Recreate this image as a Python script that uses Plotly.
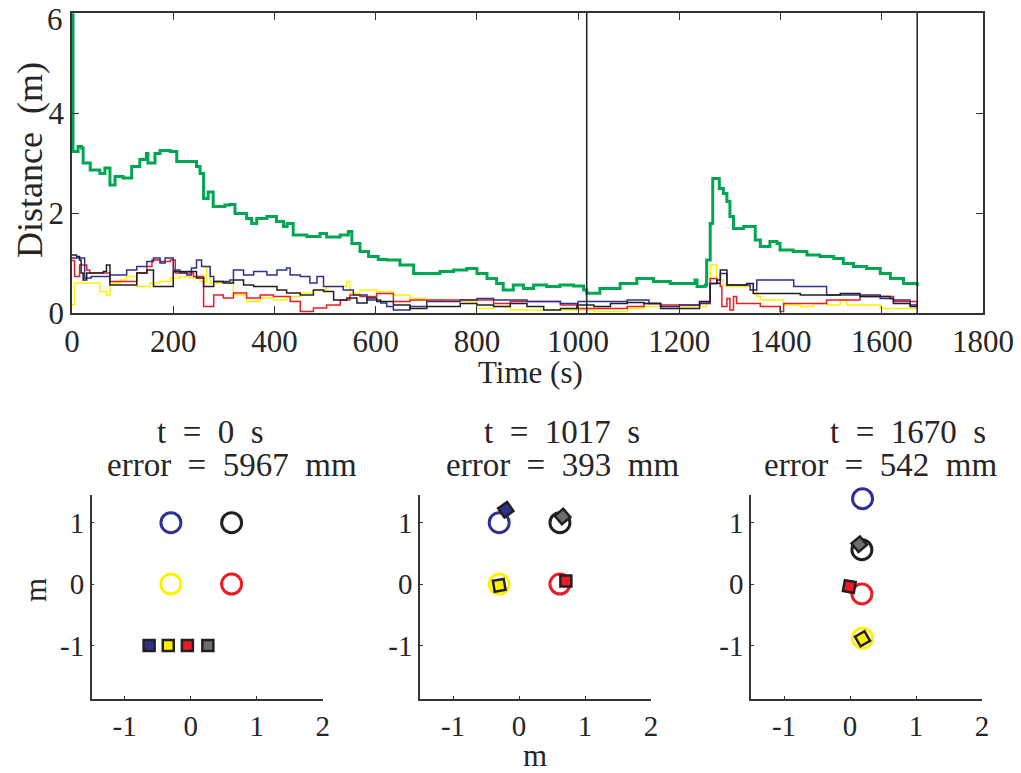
import plotly.graph_objects as go

# ---- distance-to-goal time series (s, m) ----
t_err = [0, 2, 12, 19, 22, 36, 55, 65, 75, 85, 101, 118, 134, 147, 150, 164, 174, 194, 207, 227,
         246, 253, 260, 269, 279, 302, 312, 322, 345, 355, 365, 385, 404, 418, 425, 437, 464, 490,
         503, 530, 546, 553, 569, 586, 605, 622, 648, 675, 701, 727, 754, 780, 800, 820, 839, 852,
         872, 892, 912, 938, 964, 991, 1011, 1017, 1043, 1083, 1116, 1149, 1182, 1208, 1231, 1235,
         1251, 1254, 1261, 1266, 1274, 1279, 1287, 1294, 1300, 1307, 1327, 1346, 1350, 1360, 1379,
         1393, 1399, 1425, 1452, 1478, 1505, 1524, 1544, 1570, 1597, 1617, 1643, 1670]
d_err = [5.967, 3.23, 3.33, 3.30, 3.00, 2.86, 2.79, 2.90, 2.56, 2.73, 2.70, 2.93, 3.07, 3.19, 3.00,
         3.19, 3.25, 3.23, 3.03, 3.03, 2.93, 2.79, 2.29, 2.42, 2.13, 2.16, 2.17, 1.99, 1.89, 1.79,
         1.89, 1.93, 1.83, 1.73, 1.79, 1.56, 1.53, 1.59, 1.52, 1.56, 1.63, 1.39, 1.23, 1.13, 1.07,
         1.06, 0.96, 0.79, 0.79, 0.83, 0.86, 0.89, 0.79, 0.69, 0.59, 0.46, 0.56, 0.49, 0.56, 0.53,
         0.56, 0.54, 0.46, 0.393, 0.49, 0.59, 0.69, 0.63, 0.59, 0.59, 0.66, 0.53, 0.56, 1.06, 1.79,
         2.69, 2.69, 2.49, 2.39, 2.23, 1.93, 1.69, 1.73, 1.73, 1.46, 1.33, 1.43, 1.39, 1.26, 1.23,
         1.16, 1.13, 1.09, 0.99, 0.93, 0.89, 0.79, 0.69, 0.59, 0.542]

t_blue = [0, 25, 38, 75, 108, 128, 148, 161, 174, 184, 200, 213, 227, 236, 246, 256, 273, 280, 312,
          319, 339, 359, 385, 405, 424, 431, 451, 470, 484, 497, 536, 556, 583, 610, 622, 635, 668,
          701, 767, 800, 833, 899, 965, 1000, 1031, 1097, 1140, 1163, 1200, 1240, 1261, 1281, 1294,
          1340, 1353, 1426, 1491, 1597, 1623, 1656, 1670]
d_blue = [1.10, 0.70, 0.73, 0.76, 0.86, 0.93, 1.03, 1.10, 1.00, 1.10, 0.86, 0.80, 0.76, 0.90, 1.06,
          0.93, 0.73, 0.63, 0.66, 0.86, 0.76, 0.83, 0.76, 0.86, 0.90, 0.76, 0.73, 0.60, 0.73, 0.53,
          0.46, 0.36, 0.26, 0.20, 0.13, 0.06, 0.13, 0.23, 0.26, 0.29, 0.26, 0.23, 0.19, 0.23, 0.23,
          0.26, 0.19, 0.13, 0.16, 0.19, 0.59, 0.79, 0.56, 0.46, 0.66, 0.53, 0.36, 0.29, 0.26, 0.16,
          0.19]

t_red = [0, 5, 15, 29, 35, 75, 128, 148, 158, 174, 194, 204, 240, 260, 280, 299, 319, 345, 372, 398,
         431, 451, 477, 503, 530, 549, 569, 602, 635, 668, 833, 866, 965, 998, 1064, 1097, 1130, 1163,
         1240, 1261, 1274, 1281, 1284, 1294, 1300, 1307, 1313, 1360, 1399, 1406, 1491, 1557, 1623,
         1670]
d_red = [1.05, 0.73, 0.96, 0.86, 0.80, 0.63, 0.80, 0.93, 1.06, 1.03, 1.06, 0.80, 0.73, 0.13, 0.36,
         0.30, 0.40, 0.30, 0.36, 0.33, 0.23, 0.03, 0.10, 0.16, 0.26, 0.36, 0.33, 0.39, 0.23, 0.26,
         0.19, 0.23, 0.16, 0.09, 0.09, 0.13, 0.19, 0.16, 0.20, 0.69, 0.60, 0.53, 0.13, 0.29, 0.06,
         0.33, 0.19, 0.13, 0.03, 0.19, 0.26, 0.33, 0.23, 0.19]

t_yel = [0, 5, 55, 68, 75, 95, 108, 128, 154, 174, 194, 213, 233, 253, 266, 273, 299, 319, 345, 372,
         398, 424, 451, 477, 503, 543, 549, 569, 602, 635, 668, 701, 734, 800, 833, 866, 1031, 1097,
         1130, 1200, 1254, 1261, 1274, 1281, 1287, 1294, 1340, 1353, 1360, 1399, 1406, 1439, 1465,
         1491, 1518, 1531, 1597, 1670]
d_yel = [0.16, 0.60, 0.43, 0.36, 0.60, 0.66, 0.73, 0.53, 0.60, 0.63, 0.70, 0.73, 0.70, 0.63, 0.93,
         0.60, 0.60, 0.36, 0.23, 0.30, 0.26, 0.33, 0.40, 0.46, 0.53, 0.63, 0.40, 0.46, 0.43, 0.36,
         0.29, 0.26, 0.23, 0.09, 0.13, 0.06, 0.03, 0.09, 0.13, 0.13, 0.19, 0.96, 0.60, 0.66, 0.56,
         0.53, 0.46, 0.33, 0.26, 0.26, 0.16, 0.13, 0.19, 0.16, 0.26, 0.16, 0.09, 0.16]

t_blk = [0, 9, 15, 18, 22, 29, 62, 68, 75, 128, 148, 161, 200, 246, 260, 280, 299, 319, 339, 359,
         405, 424, 451, 477, 497, 517, 543, 563, 583, 602, 635, 668, 701, 767, 800, 833, 866, 899,
         932, 965, 998, 1031, 1064, 1097, 1130, 1163, 1240, 1261, 1274, 1281, 1294, 1333, 1346, 1439,
         1518, 1557, 1616, 1623, 1656, 1670]
d_blk = [1.16, 1.13, 1.06, 0.80, 0.66, 0.80, 0.83, 0.96, 0.56, 0.80, 0.86, 0.53, 0.83, 0.70, 0.53,
         0.63, 0.60, 0.66, 0.56, 0.53, 0.46, 0.40, 0.36, 0.46, 0.43, 0.26, 0.30, 0.20, 0.30, 0.23,
         0.16, 0.09, 0.13, 0.19, 0.16, 0.13, 0.19, 0.13, 0.06, 0.09, 0.16, 0.13, 0.19, 0.21, 0.19,
         0.09, 0.23, 0.59, 0.66, 0.86, 0.56, 0.59, 0.39, 0.36, 0.39, 0.33, 0.29, 0.19, 0.13, 0.19]

# y ticks of the distance axis
dist_ticks = [0, 2, 4, 6]

# ---- snapshots ----
snap_t = [0, 1017, 1670]
snap_err_mm = [5967, 393, 542]

# order: blue, black, yellow, red
goal_x = [[-0.30, 0.62, -0.30, 0.62],
          [-0.30, 0.62, -0.30, 0.62],
          [0.19, 0.18, 0.19, 0.18]]
goal_y = [[1.00, 1.00, 0.00, 0.00],
          [1.00, 1.00, 0.00, 0.00],
          [1.39, 0.56, -0.88, -0.16]]
robot_x = [[-0.63, 0.26, -0.34, -0.05],
           [-0.20, 0.66, -0.30, 0.71],
           [0.01, 0.14, 0.19, -0.01]]
robot_y = [[-1.00, -1.00, -1.00, -1.00],
           [1.21, 1.10, -0.02, 0.05],
           [1.48, 0.65, -0.89, -0.04]]
robot_heading = [[0, 0, 0, 0],
                 [-35, -40, -10, 0],
                 [-35, -40, -30, 10]]

GREEN = "#00A651"
BLUE = "#2E3192"
RED = "#ED1C24"
YELLOW = "#FFF200"
BLACK = "#231F20"
GRAY = "#6D6E71"
goal_colors = [BLUE, BLACK, YELLOW, RED]
robot_colors = [BLUE, GRAY, YELLOW, RED]

FONT = "Liberation Serif"
TXT = "#262626"
SP = "\u2002"  # en space, for the wider TeX-like word spacing

fig = go.Figure()

for t, d, c in [(t_yel, d_yel, YELLOW), (t_red, d_red, RED), (t_blue, d_blue, BLUE),
                (t_blk, d_blk, BLACK)]:
    fig.add_trace(go.Scatter(x=t, y=d, mode="lines", line=dict(color=c, width=1.5, shape="hv"),
                             xaxis="x", yaxis="y", showlegend=False))
fig.add_trace(go.Scatter(x=t_err, y=d_err, mode="lines", line=dict(color=GREEN, width=3, shape="hv"),
                         xaxis="x", yaxis="y", showlegend=False))

for ts in snap_t[1:]:
    fig.add_shape(type="line", xref="x", yref="y domain", x0=ts, x1=ts, y0=0, y1=1,
                  line=dict(color=BLACK, width=1.5))

# snapshot panels
for k in range(3):
    ax = str(k + 2)
    fig.add_trace(go.Scatter(
        x=goal_x[k], y=goal_y[k], mode="markers", xaxis="x" + ax, yaxis="y" + ax,
        marker=dict(symbol="circle-open", size=20, color=goal_colors, line=dict(width=3)),
        showlegend=False, cliponaxis=False))
    fig.add_trace(go.Scatter(
        x=robot_x[k], y=robot_y[k], mode="markers", xaxis="x" + ax, yaxis="y" + ax,
        marker=dict(symbol="square", size=11, color=robot_colors, angle=robot_heading[k],
                    line=dict(color=BLACK, width=2.5)),
        showlegend=False, cliponaxis=False))

W, H = 1021, 773


def px_x(p):
    return p / W


def px_y(p):
    return 1 - p / H


axis_common = dict(showgrid=False, zeroline=False, showline=True, linecolor="#333333",
                   linewidth=1.5, ticks="inside", tickcolor="#333333", automargin=False,
                   ticklabeloverflow="allow",
                   tickfont=dict(family=FONT, size=31, color=TXT))

# the topmost label sits right at the page edge; it is placed separately below
dist_ticktext = [str(v) for v in dist_ticks[:-1]] + [""]

layout = dict(
    template="none",
    width=W, height=H, margin=dict(l=0, r=0, t=0, b=0, pad=0),
    plot_bgcolor="white", paper_bgcolor="white", showlegend=False,
    xaxis=dict(domain=[px_x(72), px_x(983)], range=[0, 1800], tickvals=list(range(0, 1801, 200)),
               anchor="y", mirror="ticks", ticklen=7, **axis_common),
    yaxis=dict(domain=[px_y(313), px_y(13)], range=[0, 6], tickvals=dist_ticks,
               ticktext=dist_ticktext, anchor="x", mirror="ticks", ticklen=7, **axis_common),
)

panel_x = [(91.7, 322.7), (420, 651), (751, 982)]
for k, (a, b) in enumerate(panel_x):
    ax = str(k + 2)
    pc = dict(axis_common)
    pc["tickfont"] = dict(family=FONT, size=29, color=TXT)
    layout["xaxis" + ax] = dict(domain=[px_x(a), px_x(b)], range=[-1.5, 2], tickvals=[-1, 0, 1, 2],
                                ticktext=["-1", "0", "1", "2"], anchor="y" + ax, ticklen=3, **pc)
    layout["yaxis" + ax] = dict(domain=[px_y(699), px_y(495)], range=[-1.87, 1.45],
                                tickvals=[-1, 0, 1], ticktext=["-1", "0", "1"],
                                anchor="x" + ax, ticklen=3, **pc)

fig.update_layout(**layout)

# top tick label of the distance axis, kept inside the page
fig.add_annotation(text=str(dist_ticks[-1]), x=0, y=1, xref="x domain", yref="paper",
                   xanchor="right", yanchor="top", xshift=-7, showarrow=False,
                   font=dict(family=FONT, size=31, color=TXT))


def label(text, x, y, size=31, angle=0):
    fig.add_annotation(text=text, x=px_x(x), y=px_y(y), xref="paper", yref="paper",
                       showarrow=False, textangle=angle, xanchor="center", yanchor="middle",
                       font=dict(family=FONT, size=size, color=TXT))


label(f"Distance{SP}(m)", 30, 160, size=36, angle=-90)
label("Time (s)", 530, 372, size=31)
label("m", 35, 590, angle=-90)
label("m", 535, 755)

title_centers = [(210, 232), (562, 562), (908, 880)]
for k in range(3):
    label(f"t{SP}={SP}{snap_t[k]}{SP}s", title_centers[k][0], 432, size=33)
    label(f"error{SP}={SP}{snap_err_mm[k]}{SP}mm", title_centers[k][1], 465, size=33)

fig.write_html("out.html")
